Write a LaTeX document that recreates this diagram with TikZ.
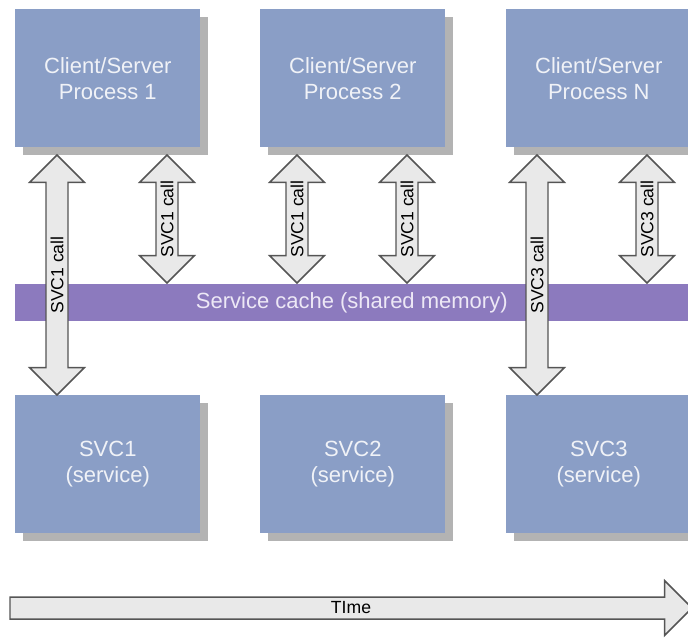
\documentclass[tikz,border=0pt]{standalone}
\usepackage{fontspec}
\setmainfont{Liberation Sans}
\usetikzlibrary{calc,shadows}

\definecolor{boxblue}{HTML}{8A9EC6}
\definecolor{boxshadow}{HTML}{B3B3B3}
\definecolor{cachepurple}{HTML}{8C7ABE}
\definecolor{boxtext}{HTML}{F0F2F7}
\definecolor{cachetext}{HTML}{EDE8F6}
\definecolor{arrowfill}{HTML}{E9E9E9}
\definecolor{arrowline}{HTML}{555555}

% block arrow geometry
\newcommand\shaftw{8.25pt}
\newcommand\headw{20.6pt}
\newcommand\headl{20.6pt}

\tikzset{
  procbox/.style={rectangle, fill=boxblue, draw=none, inner sep=0pt,
    minimum width=138.75pt, minimum height=103.5pt, align=center,
    text=boxtext, font=\fontsize{16.5}{19.5}\selectfont,
    drop shadow={shadow xshift=5.5pt, shadow yshift=-5.5pt,
      fill=boxshadow, opacity=1}},
  cachebar/.style={rectangle, fill=cachepurple, draw=none, inner sep=0pt,
    minimum width=504.75pt, minimum height=27.75pt,
    text=cachetext, font=\fontsize{16.5}{19.5}\selectfont},
  blockarrow/.style={draw=arrowline, fill=arrowfill, line width=1.1pt,
    line join=miter,
    to path={let \p1=(\tikztostart), \p2=(\tikztotarget) in
      (\x1,\y1) -- (\x1+\headw,\y1-\headl) -- (\x1+\shaftw,\y1-\headl)
      -- (\x2+\shaftw,\y2+\headl) -- (\x2+\headw,\y2+\headl) -- (\x2,\y2)
      -- (\x2-\headw,\y2+\headl) -- (\x2-\shaftw,\y2+\headl)
      -- (\x1-\shaftw,\y1-\headl) -- (\x1-\headw,\y1-\headl) -- cycle}},
  timearrow/.style={draw=arrowline, fill=arrowfill, line width=1.1pt,
    line join=miter,
    to path={let \p1=(\tikztostart), \p2=(\tikztotarget) in
      (\x1,\y1+\shaftw) -- (\x2-\headl,\y1+\shaftw) -- (\x2-\headl,\y1+\headw)
      -- (\x2,\y2) -- (\x2-\headl,\y1-\headw) -- (\x2-\headl,\y1-\shaftw)
      -- (\x1,\y1-\shaftw) -- cycle}},
  arrowlabel/.style={rotate=90, inner sep=0pt, text=black,
    font=\fontsize{13.2}{15}\selectfont},
  timelabel/.style={inner sep=0pt, text=black,
    font=\fontsize{13.2}{15}\selectfont}
}

\begin{document}
\begin{tikzpicture}[x=0.75pt, y=-0.75pt]
\useasboundingbox (0,0) rectangle (688,637);
\clip (0,0) rectangle (688,637);

% client/server processes
\node[procbox, anchor=north west] (p1) at (15,9)  {Client/Server\\Process 1};
\node[procbox, anchor=north west] (p2) at (260,9) {Client/Server\\Process 2};
\node[procbox, anchor=north west] (pn) at (506,9) {Client/Server\\Process N};

% services
\node[procbox, anchor=north west] (s1) at (15,395)  {SVC1\\(service)};
\node[procbox, anchor=north west] (s2) at (260,395) {SVC2\\(service)};
\node[procbox, anchor=north west] (s3) at (506,395) {SVC3\\(service)};

% shared memory cache
\node[cachebar, anchor=north west] (cache) at (15,284) {Service cache (shared memory)};

% arrow end points
\coordinate (a1t) at (57,155);  \coordinate (a1b) at (57,395);
\coordinate (a2t) at (167,155); \coordinate (a2b) at (167,283);
\coordinate (a3t) at (297,155); \coordinate (a3b) at (297,283);
\coordinate (a4t) at (407,155); \coordinate (a4b) at (407,283);
\coordinate (a5t) at (537,155); \coordinate (a5b) at (537,395);
\coordinate (a6t) at (647,155); \coordinate (a6b) at (647,283);

\draw[blockarrow] (a1t) to (a1b);
\draw[blockarrow] (a2t) to (a2b);
\draw[blockarrow] (a3t) to (a3b);
\draw[blockarrow] (a4t) to (a4b);
\draw[blockarrow] (a5t) to (a5b);
\draw[blockarrow] (a6t) to (a6b);

\node[arrowlabel] (l1) at ($(a1t)!0.5!(a1b)$) {SVC1 call};
\node[arrowlabel] (l2) at ($(a2t)!0.5!(a2b)$) {SVC1 call};
\node[arrowlabel] (l3) at ($(a3t)!0.5!(a3b)$) {SVC1 call};
\node[arrowlabel] (l4) at ($(a4t)!0.5!(a4b)$) {SVC1 call};
\node[arrowlabel] (l5) at ($(a5t)!0.5!(a5b)$) {SVC3 call};
\node[arrowlabel] (l6) at ($(a6t)!0.5!(a6b)$) {SVC3 call};

% time axis
\coordinate (t0) at (10,608);
\coordinate (t1) at (692,608);
\draw[timearrow] (t0) to (t1);
\node[timelabel] (tl) at (351,608) {TIme};
\end{tikzpicture}
\end{document}
